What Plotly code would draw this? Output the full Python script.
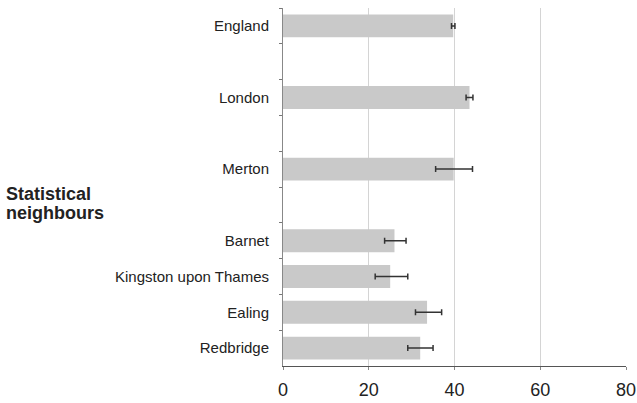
import plotly.graph_objects as go

# Categories (blank entries are spacer rows in the original chart)
categories = ["England", " ", "London", "  ", "Merton", "   ",
              "Barnet", "Kingston upon Thames", "Ealing", "Redbridge"]
values = [39.7, None, 43.5, None, 39.8, None, 26.0, 25.0, 33.6, 32.0]
err_plus = [0.4, None, 0.8, None, 4.4, None, 2.7, 4.1, 3.4, 3.0]
err_minus = [0.4, None, 0.8, None, 4.2, None, 2.3, 3.5, 2.7, 2.9]
x_ticks = [0, 20, 40, 60, 80]
group_label_lines = ["Statistical", "neighbours"]

fig = go.Figure()
fig.add_trace(go.Bar(
    y=categories, x=values, orientation="h",
    marker=dict(color="#c9c9c9", line=dict(width=0)),
    error_x=dict(type="data", symmetric=False, array=err_plus,
                 arrayminus=err_minus, color="#333333", thickness=1.5, width=3),
    width=0.64,
))

fig.update_layout(
    width=637, height=403,
    margin=dict(l=283, r=11, t=8, b=37),
    paper_bgcolor="white", plot_bgcolor="white",
    showlegend=False,
    font=dict(family="Liberation Sans, Arial", color="#222222"),
)
fig.update_xaxes(
    range=[0, 80], tickvals=x_ticks, showgrid=True, gridcolor="#d4d4d4",
    gridwidth=1, zeroline=False, showline=True, linecolor="#555555",
    linewidth=1, ticks="outside", ticklen=3, tickcolor="#888888",
    tickfont=dict(size=18, color="#222222"), ticklabelstandoff=4,
    automargin=False,
)
fig.update_yaxes(
    type="category", categoryorder="array", categoryarray=categories,
    autorange="reversed", showline=True, linecolor="#888888", linewidth=1,
    ticks="outside", tickson="boundaries", ticklen=3, tickcolor="#777777",
    tickfont=dict(size=18 * 15 / 18, color="#222222"), showgrid=False,
    ticklabelstandoff=10, automargin=False,
)
for i, line in enumerate(group_label_lines):
    py = 194 + 19 * i
    fig.add_annotation(
        text="<b>" + line + "</b>", xref="paper", yref="paper",
        x=-279 / 343, y=1 - (py - 8) / 358, xanchor="left", yanchor="middle",
        align="left", showarrow=False, font=dict(size=18, color="#222222"),
    )

fig.write_html("out.html")
